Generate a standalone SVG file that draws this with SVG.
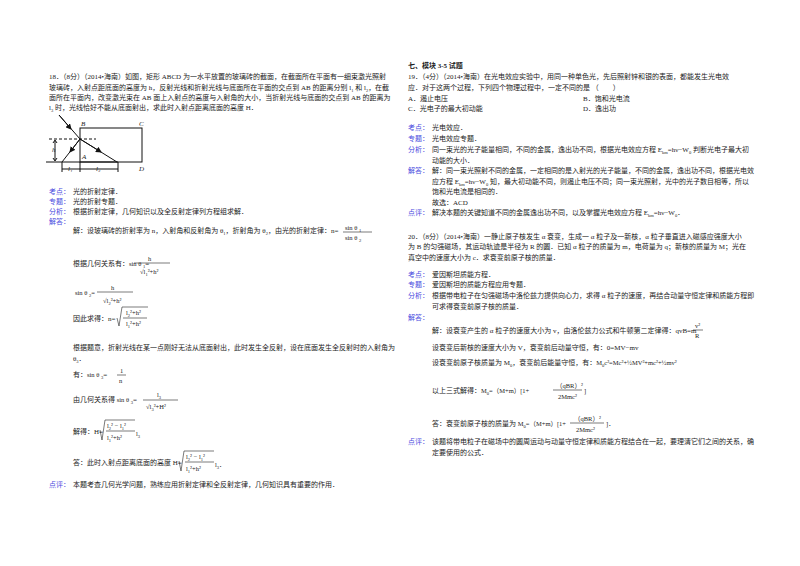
<svg xmlns="http://www.w3.org/2000/svg" width="800" height="566" viewBox="0 0 800 566">
<style>
text{font-family:"Liberation Serif","Noto Sans CJK SC",serif;font-size:7px;fill:#222}
.k{fill:#4a4ae0}
.m{font-size:6.5px}
.s{font-size:4.5px}
.fl{stroke:#222;stroke-width:0.6}
.fig{stroke:#111;stroke-width:1;fill:none}
</style>
<defs><marker id="ar" markerWidth="6" markerHeight="6" refX="5" refY="3" orient="auto" markerUnits="userSpaceOnUse"><path d="M0,0L6,3L0,6z" fill="#111"/></marker></defs>
<rect width="800" height="566" fill="#fff"/>
<g id="q18">
<text x="49" y="79">18．（8分）（2014•海南）如图，矩形 ABCD 为一水平放置的玻璃砖的截面，在截面所在平面有一细束激光照射</text>
<text x="49" y="90">玻璃砖，入射点距底面的高度为 h，反射光线和折射光线与底面所在平面的交点到 AB 的距离分别 l<tspan class="s" dy="1.5">1</tspan><tspan dy="-1.5"> 和 l</tspan><tspan class="s" dy="1.5">2</tspan><tspan dy="-1.5">，在截</tspan></text>
<text x="49" y="100">面所在平面内，改变激光束在 AB 面上入射点的高度与入射角的大小，当折射光线与底面的交点到 AB 的距离为</text>
<text x="49" y="110">l<tspan class="s" dy="1.5">3</tspan><tspan dy="-1.5"> 时，光线恰好不能从底面射出，求此时入射点距离底面的高度 H．</tspan></text>
</g>
<g id="figure">
<rect x="80" y="128" width="62" height="34" class="fig"/>
<line x1="49" y1="139" x2="96" y2="139" class="fig" stroke-dasharray="3,2"/>
<line x1="46" y1="162" x2="118" y2="162" class="fig"/>
<line x1="59" y1="115" x2="80" y2="139" class="fig"/>
<line x1="59" y1="115" x2="71" y2="129" class="fig" marker-end="url(#ar)"/>
<line x1="80" y1="139" x2="62" y2="162" class="fig"/>
<line x1="80" y1="139" x2="70" y2="152" class="fig" marker-end="url(#ar)"/>
<line x1="80" y1="139" x2="117" y2="162" class="fig"/>
<line x1="80" y1="139" x2="101" y2="152" class="fig" marker-end="url(#ar)"/>
<line x1="55" y1="141" x2="55" y2="160" class="fig" stroke-width="0.7"/>
<path d="M53,143L55,140L57,143M53,158L55,161L57,158" class="fig" stroke-width="0.7"/>
<line x1="62" y1="162" x2="62" y2="172" class="fig"/>
<line x1="80" y1="162" x2="80" y2="172" class="fig"/>
<line x1="118" y1="162" x2="118" y2="172" class="fig"/>
<line x1="62" y1="169" x2="118" y2="169" class="fig" stroke-width="0.7"/>
<text x="52" y="152" font-style="italic" font-size="5">h</text>
<text x="68" y="171" font-style="italic" font-size="5">l₁</text>
<text x="96" y="171" font-style="italic" font-size="5">l₂</text>
<text x="81" y="126" font-style="italic" font-size="5">B</text>
<text x="139" y="126" font-style="italic" font-size="5">C</text>
<text x="82" y="159" font-style="italic" font-size="5">A</text>
<text x="139" y="171" font-style="italic" font-size="5">D</text>
</g>
<g id="sol18">
<text x="49" y="194"><tspan class="k">考点：</tspan><tspan x="73">光的折射定律．</tspan></text>
<text x="49" y="204"><tspan class="k">专题：</tspan><tspan x="73">光的折射专题．</tspan></text>
<text x="49" y="214"><tspan class="k">分析：</tspan><tspan x="73">根据折射定律，几何知识以及全反射定律列方程组求解．</tspan></text>
<text x="49" y="224" class="k">解答：</text>
<text x="73" y="233">解：设玻璃砖的折射率为 n，入射角和反射角为 θ<tspan class="s" dy="1.5">1</tspan><tspan dy="-1.5">，折射角为 θ</tspan><tspan class="s" dy="1.5">2</tspan><tspan dy="-1.5">，由光的折射定律：n=</tspan></text>
<text x="345" y="230" class="m">sin θ <tspan class="s" dy="2">1</tspan></text>
<line x1="343" y1="232" x2="372" y2="232" class="fl"/>
<text x="345" y="240" class="m">sin θ <tspan class="s" dy="2">2</tspan></text>
<text x="73" y="266">根据几何关系有：<tspan class="m">sin θ </tspan><tspan class="s" dy="2">1</tspan><tspan dy="-2">=</tspan></text>
<text x="148" y="261" class="m">h</text>
<line x1="134" y1="263" x2="170" y2="263" class="fl"/>
<text x="140" y="274" class="m">√l<tspan class="s" dy="2">1</tspan><tspan dy="-2">²+h²</tspan></text>
<text x="75" y="295" class="m">sin θ <tspan class="s" dy="2">2</tspan><tspan dy="-2">=</tspan></text>
<text x="111" y="290" class="m">h</text>
<line x1="97" y1="292" x2="133" y2="292" class="fl"/>
<text x="103" y="303" class="m">√l<tspan class="s" dy="2">2</tspan><tspan dy="-2">²+h²</tspan></text>
<text x="73" y="321">因此求得：n=</text>
<path d="M117,318L119,326L122,307L148,307" class="fl" fill="none"/>
<text x="126" y="315" class="m">l<tspan class="s" dy="2">2</tspan><tspan dy="-2">²+h²</tspan></text>
<line x1="123" y1="318" x2="147" y2="318" class="fl"/>
<text x="126" y="326" class="m">l<tspan class="s" dy="2">1</tspan><tspan dy="-2">²+h²</tspan></text>
<text x="73" y="350">根据题意，折射光线在某一点刚好无法从底面射出，此时发生全反射，设在底面发生全反射时的入射角为</text>
<text x="73" y="361">θ<tspan class="s" dy="1.5">3</tspan><tspan dy="-1.5">．</tspan></text>
<text x="73" y="377">有：<tspan class="m">sin θ </tspan><tspan class="s" dy="2">3</tspan><tspan dy="-2">=</tspan></text>
<text x="120" y="373" class="m">1</text>
<line x1="117" y1="375" x2="126" y2="375" class="fl"/>
<text x="119" y="383" class="m">n</text>
<text x="73" y="402">由几何关系得 <tspan class="m">sin θ </tspan><tspan class="s" dy="2">3</tspan><tspan dy="-2">=</tspan></text>
<text x="157" y="397" class="m">l<tspan class="s" dy="2">3</tspan></text>
<line x1="143" y1="400" x2="178" y2="400" class="fl"/>
<text x="146" y="409" class="m">√l<tspan class="s" dy="2">3</tspan><tspan dy="-2">²+H²</tspan></text>
<text x="73" y="434">解得：H=</text>
<path d="M100,430L102,440L105,420L135,420" class="fl" fill="none"/>
<text x="107" y="428" class="m">l<tspan class="s" dy="2">2</tspan><tspan dy="-2">² − l</tspan><tspan class="s" dy="2">1</tspan><tspan dy="-2">²</tspan></text>
<line x1="106" y1="431" x2="135" y2="431" class="fl"/>
<text x="107" y="440" class="m">l<tspan class="s" dy="2">1</tspan><tspan dy="-2">²+h²</tspan></text>
<text x="136" y="436" class="m">l<tspan class="s" dy="2">3</tspan></text>
<text x="73" y="465">答：此时入射点距离底面的高度 H=</text>
<path d="M179,461L181,471L184,451L214,451" class="fl" fill="none"/>
<text x="186" y="459" class="m">l<tspan class="s" dy="2">2</tspan><tspan dy="-2">² − l</tspan><tspan class="s" dy="2">1</tspan><tspan dy="-2">²</tspan></text>
<line x1="185" y1="462" x2="214" y2="462" class="fl"/>
<text x="186" y="471" class="m">l<tspan class="s" dy="2">1</tspan><tspan dy="-2">²+h²</tspan></text>
<text x="215" y="467" class="m">l<tspan class="s" dy="2">3</tspan><tspan dy="-2">．</tspan></text>
<text x="49" y="487"><tspan class="k">点评：</tspan><tspan x="73">本题考查几何光学问题，熟练应用折射定律和全反射定律，几何知识具有重要的作用．</tspan></text>
</g>
<g id="q19">
<text x="408" y="68" font-weight="bold">七、模块 3-5 试题</text>
<text x="408" y="79">19．（4分）（2014•海南）在光电效应实验中，用同一种单色光，先后照射锌和银的表面，都能发生光电效</text>
<text x="408" y="90">应．对于这两个过程，下列四个物理过程中，一定不同的是 （　　）</text>
<text x="408" y="101">A．遏止电压</text><text x="583" y="101">B．饱和光电流</text>
<text x="408" y="111">C．光电子的最大初动能</text><text x="583" y="111">D．逸出功</text>
<text x="408" y="130"><tspan class="k">考点：</tspan><tspan x="432">光电效应．</tspan></text>
<text x="408" y="141"><tspan class="k">专题：</tspan><tspan x="432">光电效应专题．</tspan></text>
<text x="408" y="152"><tspan class="k">分析：</tspan><tspan x="432">同一束光的光子能量相同，不同的金属，逸出功不同，根据光电效应方程 E</tspan><tspan class="s" dy="1.5">km</tspan><tspan dy="-1.5">=hν−W</tspan><tspan class="s" dy="1.5">0</tspan><tspan dy="-1.5"> 判断光电子最大初</tspan></text>
<text x="432" y="163">动能的大小．</text>
<text x="408" y="173"><tspan class="k">解答：</tspan><tspan x="432">解：同一束光照射不同的金属，一定相同的是入射光的光子能量，不同的金属，逸出功不同，根据光电效</tspan></text>
<text x="432" y="184">应方程 E<tspan class="s" dy="1.5">km</tspan><tspan dy="-1.5">=hν−W</tspan><tspan class="s" dy="1.5">0</tspan><tspan dy="-1.5"> 知，最大初动能不同，则遏止电压不同；同一束光照射，光中的光子数目相等，所以</tspan></text>
<text x="432" y="194">饱和光电流是相同的．</text>
<text x="432" y="205">故选：ACD</text>
<text x="408" y="215"><tspan class="k">点评：</tspan><tspan x="432">解决本题的关键知道不同的金属逸出功不同，以及掌握光电效应方程 E</tspan><tspan class="s" dy="1.5">km</tspan><tspan dy="-1.5">=hν−W</tspan><tspan class="s" dy="1.5">0</tspan><tspan dy="-1.5">．</tspan></text>
</g>
<g id="q20">
<text x="408" y="239">20．（8分）（2014•海南）一静止原子核发生 α 衰变，生成一 α 粒子及一新核，α 粒子垂直进入磁感应强度大小</text>
<text x="408" y="249">为 B 的匀强磁场，其运动轨迹是半径为 R 的圆．已知 α 粒子的质量为 m，电荷量为 q；新核的质量为 M；光在</text>
<text x="408" y="260">真空中的速度大小为 c．求衰变前原子核的质量．</text>
<text x="408" y="277"><tspan class="k">考点：</tspan><tspan x="432">爱因斯坦质能方程．</tspan></text>
<text x="408" y="287"><tspan class="k">专题：</tspan><tspan x="432">爱因斯坦的质能方程应用专题．</tspan></text>
<text x="408" y="298"><tspan class="k">分析：</tspan><tspan x="432">根据带电粒子在匀强磁场中洛伦兹力提供向心力，求得 α 粒子的速度，再结合动量守恒定律和质能方程即</tspan></text>
<text x="432" y="309">可求得衰变前原子核的质量．</text>
<text x="408" y="320" class="k">解答：</text>
<text x="432" y="333">解：设衰变产生的 α 粒子的速度大小为 v，由洛伦兹力公式和牛顿第二定律得：qvB=m</text>
<text x="695" y="328" class="m">v²</text>
<line x1="693" y1="330" x2="703" y2="330" class="fl"/>
<text x="695" y="338" class="m">R</text>
<text x="432" y="350">设衰变后新核的速度大小为 V，衰变前后动量守恒，有：0=MV−mv</text>
<text x="432" y="365">设衰变前原子核质量为 M<tspan class="s" dy="1.5">0</tspan><tspan dy="-1.5">，衰变前后能量守恒，有：</tspan><tspan class="m">M</tspan><tspan class="s" dy="2">0</tspan><tspan class="m" dy="-2">c²=Mc²+½MV²+mc²+½mv²</tspan></text>
<text x="432" y="393">以上三式解得：<tspan class="m">M</tspan><tspan class="s" dy="2">0</tspan><tspan class="m" dy="-2">=（M+m）[1+</tspan></text>
<text x="556" y="388" class="m">（qBR）²</text>
<line x1="553" y1="390" x2="582" y2="390" class="fl"/>
<text x="558" y="399" class="m">2Mmc²</text>
<text x="584" y="393" class="m">]</text>
<text x="432" y="426">答：衰变前原子核的质量为 <tspan class="m">M</tspan><tspan class="s" dy="2">0</tspan><tspan class="m" dy="-2">=（M+m）[1+</tspan></text>
<text x="574" y="421" class="m">（qBR）²</text>
<line x1="570" y1="423" x2="604" y2="423" class="fl"/>
<text x="576" y="432" class="m">2Mmc²</text>
<text x="606" y="426" class="m">]．</text>
<text x="408" y="444"><tspan class="k">点评：</tspan><tspan x="432">该题将带电粒子在磁场中的圆周运动与动量守恒定律和质能方程结合在一起，要理清它们之间的关系，确</tspan></text>
<text x="432" y="455">定要使用的公式．</text>
</g>
</svg>
